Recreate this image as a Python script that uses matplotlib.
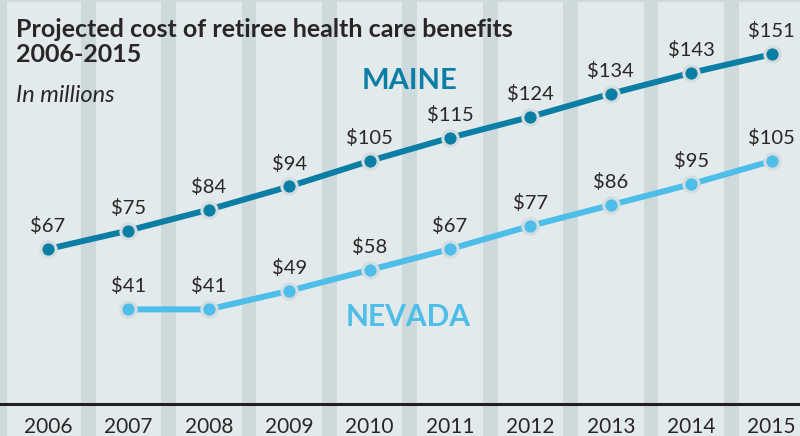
import matplotlib.pyplot as plt

years = [2006, 2007, 2008, 2009, 2010, 2011, 2012, 2013, 2014, 2015]
maine = [67, 75, 84, 94, 105, 115, 124, 134, 143, 151]
nevada_years = [2007, 2008, 2009, 2010, 2011, 2012, 2013, 2014, 2015]
nevada = [41, 41, 49, 58, 67, 77, 86, 95, 105]

maine_color = '#0a7ea4'
nevada_color = '#4dbde9'
bg = '#e2eaeb'
stripe = '#cdd9db'
text_color = '#2a2627'

plt.rcParams['font.family'] = ['Lato', 'DejaVu Sans']

fig = plt.figure(figsize=(8, 4.36), dpi=100)
fig.patch.set_facecolor(bg)
ax = fig.add_axes([0, 0, 1, 1])
ax.set_facecolor(bg)
ax.set_xlim(2005.403, 2015.353)
ax.set_ylim(-13.6, 174.4)
ax.axis('off')

# vertical stripes between the year columns
for y in years[:-1]:
    ax.axvspan(y + 0.5 - 0.093, y + 0.5 + 0.093, color=stripe, zorder=0, lw=0)
ax.axvspan(2005.403, 2005.49, color=stripe, zorder=0, lw=0)
ax.axhspan(173.6, 174.4, color=stripe, zorder=0, lw=0)

ax.axhline(0, color='#231f20', lw=2.2, zorder=1)

for xs, ys, c in [(years, maine, maine_color), (nevada_years, nevada, nevada_color)]:
    ax.plot(xs, ys, color=c, lw=4.3, zorder=2, solid_capstyle='round')
    ax.plot(xs, ys, 'o', color=c, ms=11, mec='#d3dcde', mew=2.2, zorder=3)
    for x, v in zip(xs, ys):
        ax.annotate(f'${v}', (x, v), xytext=(0, 10), textcoords='offset points',
                    ha='center', va='bottom', fontsize=14.5, color=text_color, zorder=4)

for y in years:
    ax.text(y, -9.7, str(y), ha='center', va='center', fontsize=15, color=text_color)

ax.text(2010.5, 139.5, 'MAINE', ha='center', va='center', fontsize=21,
        fontweight='bold', color=maine_color)
ax.text(2010.48, 37.5, 'NEVADA', ha='center', va='center', fontsize=21.5,
        fontweight='bold', color=nevada_color)

fig.text(0.02, 0.903, 'Projected cost of retiree health care benefits\n2006-2015',
         ha='left', va='center', fontsize=18, fontweight='bold', color=text_color,
         linespacing=1.12)
fig.text(0.02, 0.78, 'In millions', ha='left', va='center', fontsize=17,
         style='italic', color=text_color)

fig.savefig('out.png', dpi=100, facecolor=bg)
